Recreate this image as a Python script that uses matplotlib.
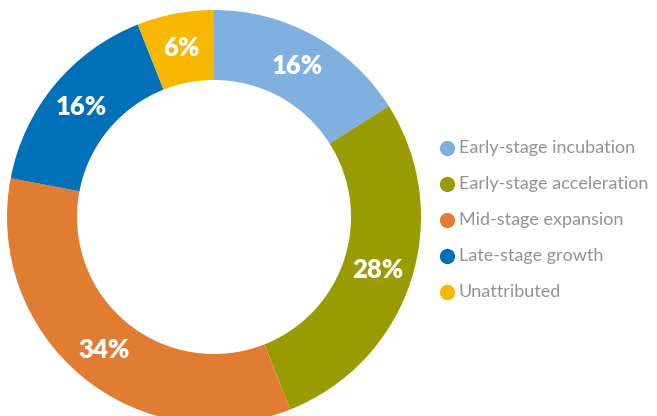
import matplotlib
matplotlib.use("Agg")
import matplotlib.pyplot as plt

categories = ["Early-stage incubation", "Early-stage acceleration", "Mid-stage expansion",
              "Late-stage growth", "Unattributed"]
values = [16, 28, 34, 16, 6]
labels = ["16%", "28%", "34%", "16%", "6%"]
colors = ["#7FB0DF", "#9A9B00", "#E07D32", "#0070B8", "#F9B800"]

W, H = 657, 416
fig = plt.figure(figsize=(W / 100, H / 100), dpi=100)
cx, cy, R = 214, 217, 207
ax = fig.add_axes([(cx - R) / W, (H - cy - R) / H, 2 * R / W, 2 * R / H])

ring = 1 - 137 / 207
wedges, texts = ax.pie(values, colors=colors, startangle=90, counterclock=False,
                       radius=1, labels=labels, labeldistance=1 - ring / 2,
                       wedgeprops=dict(width=ring, edgecolor="none"),
                       textprops=dict(color="white", fontsize=18.5, fontweight="heavy",
                                      family="Lato", ha="center", va="center"))
ax.set_xlim(-1, 1)
ax.set_ylim(-1, 1)
ax.set_aspect("equal")
ax.axis("off")

# legend drawn in pixel coordinates on an overlay axes
lax = fig.add_axes([0, 0, 1, 1])
lax.set_xlim(0, W)
lax.set_ylim(H, 0)
lax.axis("off")
for i, (name, c) in enumerate(zip(categories, colors)):
    y = 148 + 36 * i
    lax.plot(447, y, marker="o", markersize=11, markerfacecolor=c,
             markeredgecolor="none", linestyle="none")
    lax.text(459, y, name, ha="left", va="center", color="#939393",
             fontsize=13, family="Lato")

fig.savefig("out.png", dpi=100)
